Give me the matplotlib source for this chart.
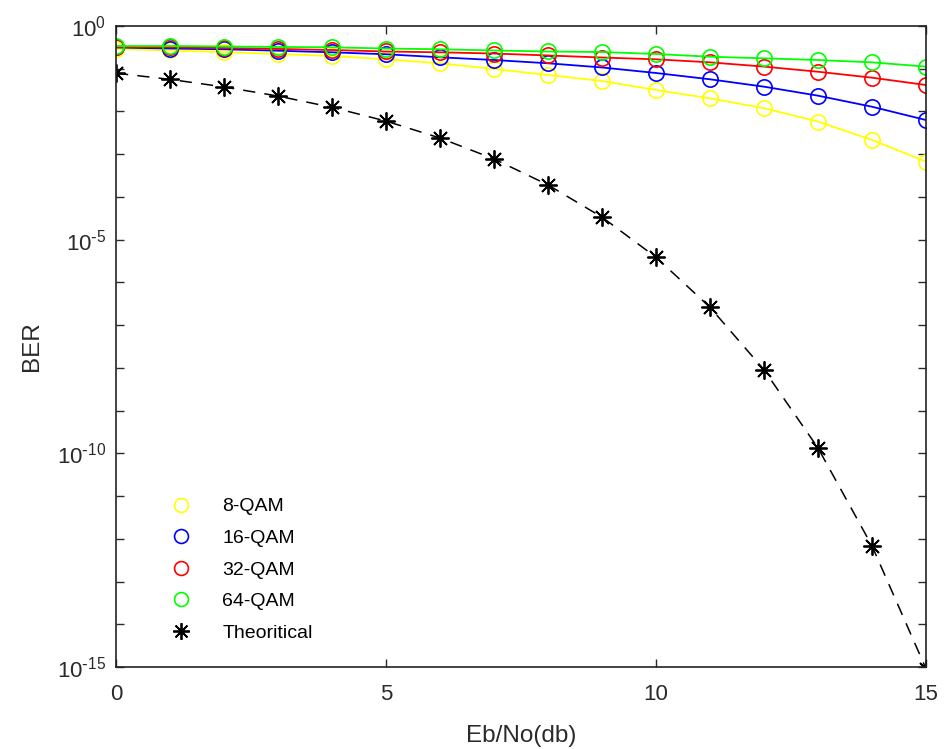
import matplotlib
matplotlib.use("Agg")
import matplotlib.pyplot as plt
from matplotlib.lines import Line2D

plt.rcParams['font.family'] = ['Liberation Sans', 'DejaVu Sans']
plt.rcParams['mathtext.default'] = 'regular'

ebno = list(range(16))
ber_8qam = [0.290, 0.267, 0.246, 0.221, 0.199, 0.166, 0.134, 0.0986, 0.0713, 0.0516,
            0.0318, 0.0203, 0.0119, 0.0058, 0.00215, 0.00067]
ber_16qam = [0.314, 0.297, 0.285, 0.264, 0.242, 0.218, 0.185, 0.160, 0.134, 0.107,
             0.0794, 0.0566, 0.038, 0.0234, 0.0129, 0.0063]
ber_32qam = [0.323, 0.317, 0.305, 0.290, 0.274, 0.253, 0.242, 0.227, 0.204, 0.183,
             0.166, 0.141, 0.112, 0.085, 0.0617, 0.0416]
ber_64qam = [0.340, 0.340, 0.331, 0.323, 0.317, 0.297, 0.285, 0.267, 0.253, 0.246,
             0.221, 0.191, 0.175, 0.160, 0.141, 0.112]
ber_theory = [7.86e-2, 5.63e-2, 3.75e-2, 2.29e-2, 1.25e-2, 5.95e-3, 2.39e-3, 7.73e-4,
              1.91e-4, 3.36e-5, 3.87e-6, 2.61e-7, 9.0e-9, 1.33e-10, 6.8e-13, 9.1e-16]

series = [("8-QAM", ber_8qam, (1, 1, 0)),
          ("16-QAM", ber_16qam, (0, 0, 1)),
          ("32-QAM", ber_32qam, (1, 0, 0)),
          ("64-QAM", ber_64qam, (0, 1, 0))]

fig = plt.figure(figsize=(9.48, 7.49), dpi=100)
ax = fig.add_axes([0.1224, 0.1095, 0.8544, 0.8558])

star = (8, 2, 0)
handles = []
for name, vals, col in series:
    ax.semilogy(ebno, vals, '-', color=col, lw=1.3, marker='o', ms=11,
                mfc='none', mec=col, mew=1.2)
    handles.append(Line2D([], [], ls='none', marker='o', ms=10, mfc='none',
                          mec=col, mew=1.2, label=name))
ax.semilogy(ebno, ber_theory, '--', color='black', lw=1.1, dashes=(8, 6),
            marker=star, ms=13, mec='black', mew=1.3)
handles.append(Line2D([], [], ls='none', marker=star, ms=12, mec='black',
                      mew=1.3, label='Theoritical'))

ax.set_xlim(0, 15)
ax.set_ylim(1e-15, 1e0)
ax.set_xticks([0, 5, 10, 15])
ax.set_yticks([10.0 ** e for e in range(-15, 1)])
ax.set_yticklabels([(r'$10^{%d}$' % e if e == 0 else r'$10^{\text{-}%d}$' % (-e))
                    if e % 5 == 0 else '' for e in range(-15, 1)])
ax.minorticks_off()
ax.tick_params(direction='in', top=True, right=True, length=6, width=1,
               labelsize=16, colors='#2a2a2a')
ax.tick_params(axis='x', pad=12)
ax.tick_params(axis='y', pad=7)
for s in ax.spines.values():
    s.set_linewidth(1.2)
    s.set_color('#222222')

ax.set_xlabel('Eb/No(db)', fontsize=17.5, color='#2a2a2a', labelpad=15)
ax.set_ylabel('BER', fontsize=17.5, color='#2a2a2a', labelpad=10)

ax.legend(handles=handles, loc='lower left', bbox_to_anchor=(0.04, 0.012),
          frameon=False, fontsize=14, handlelength=1.5, handletextpad=1.4,
          labelspacing=0.72)

fig.savefig('out.png', dpi=100)
